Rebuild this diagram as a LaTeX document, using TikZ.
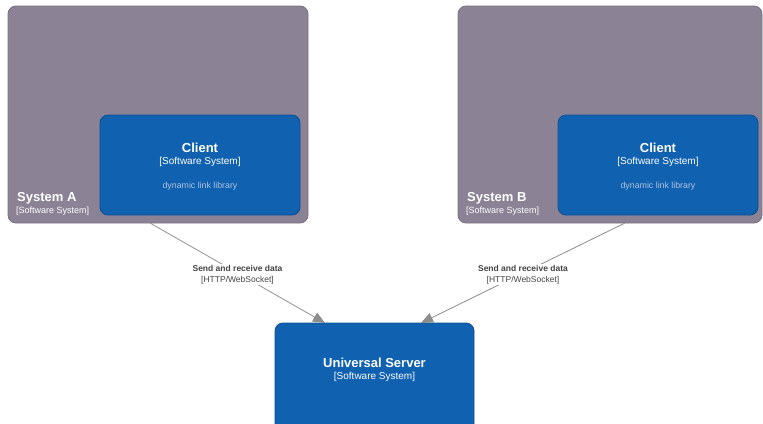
\documentclass[tikz,border=0pt]{standalone}
\usepackage{fontspec}
\setmainfont{Liberation Sans}
\usetikzlibrary{arrows.meta,calc}
\definecolor{sysgrey}{HTML}{8B8395}
\definecolor{sysedge}{HTML}{77707F}
\definecolor{sysblue}{HTML}{1061B0}
\definecolor{blueedge}{HTML}{0B4F93}
\definecolor{desctext}{HTML}{AFC3DD}
\definecolor{relgrey}{HTML}{8C8C8C}
\definecolor{reltext}{HTML}{444444}
\tikzset{
  boundary/.style={draw=sysedge, fill=sysgrey, rounded corners=8pt, line width=0.8pt},
  softsys/.style={draw=blueedge, fill=sysblue, rounded corners=8pt, line width=0.8pt},
  ttl/.style={text=white, font=\bfseries\fontsize{13}{15}\selectfont, inner sep=0pt},
  kind/.style={text=white, font=\fontsize{10}{12}\selectfont, inner sep=0pt},
  bkind/.style={text=white, font=\fontsize{9}{11}\selectfont, inner sep=0pt},
  desc/.style={text=desctext, font=\fontsize{8.8}{10}\selectfont, inner sep=0pt},
  rel/.style={draw=relgrey, line width=0.8pt, -{Triangle[length=12pt,width=10pt]}},
  rellabel/.style={fill=white, inner sep=1.5pt, align=center, text=reltext,
    font=\fontsize{8.5}{11}\selectfont}
}
\begin{document}
\begin{tikzpicture}[x=1pt,y=-1pt]
\useasboundingbox (0,0) rectangle (763,423);

% System A boundary with its client
\path[boundary] (8,6) rectangle (308,223);
\coordinate (sysAout) at (150,223);
\node[ttl, anchor=base west] (sysAname) at (17,201) {System A};
\node[bkind, anchor=base west] (sysAkind) at (16,213.5) {[Software System]};
\path[softsys] (100,115) rectangle (300,215);
\node[ttl] (clientA) at (200,147.5) {Client};
\node[kind] (clientAkind) at (200,161.5) {[Software System]};
\node[desc] (clientAdesc) at (200,186.5) {dynamic link library};

% System B boundary with its client
\path[boundary] (458,6) rectangle (762,223);
\coordinate (sysBout) at (625,223);
\node[ttl, anchor=base west] (sysBname) at (467,201) {System B};
\node[bkind, anchor=base west] (sysBkind) at (466,213.5) {[Software System]};
\path[softsys] (558,115) rectangle (758,215);
\node[ttl] (clientB) at (658,147.5) {Client};
\node[kind] (clientBkind) at (658,161.5) {[Software System]};
\node[desc] (clientBdesc) at (658,186.5) {dynamic link library};

% Universal server
\path[softsys] (275,323) rectangle (474,440);
\coordinate (srvInA) at (325,323);
\coordinate (srvInB) at (421,323);
\node[ttl] (server) at (374.5,362.5) {Universal Server};
\node[kind] (serverkind) at (374.5,376.5) {[Software System]};

% Relationships
\draw[rel] (sysAout) -- node[rellabel, yshift=-1.5pt] (relA) {\textbf{Send and receive data}\\{[HTTP/WebSocket]}} (srvInA);
\draw[rel] (sysBout) -- node[rellabel, yshift=-1.5pt] (relB) {\textbf{Send and receive data}\\{[HTTP/WebSocket]}} (srvInB);
\end{tikzpicture}
\end{document}
